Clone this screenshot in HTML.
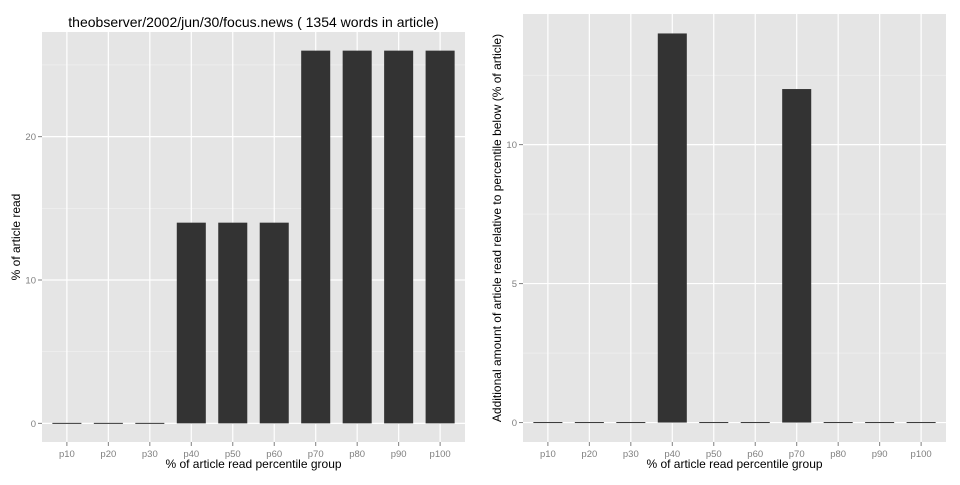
<!DOCTYPE html>
<html><head><meta charset="utf-8"><style>
body{margin:0;background:#fff;}
svg text{font-family:"Liberation Sans",sans-serif;}
</style></head><body>
<svg id="c" width="960" height="480"></svg>
<script>
const categories=["p10","p20","p30","p40","p50","p60","p70","p80","p90","p100"];
const leftValues=[0,0,0,14,14,14,26,26,26,26];
const rightValues=[0,0,0,14,0,0,12,0,0,0];
const leftTicks=[0,10,20];
const rightTicks=[0,5,10];
const NS="http://www.w3.org/2000/svg";
const svg=document.getElementById('c');
function mk(tag,attrs,parent){const e=document.createElementNS(NS,tag);for(const k in attrs)e.setAttribute(k,attrs[k]);(parent||svg).appendChild(e);return e;}
function panel(name,x0,y0,w,yBottom,values,ticks,ytitle,ytx){
  const g=mk('g',{});
  
  
  const maxV=Math.max(...values);
  const lo=-maxV*0.05,hi=maxV*1.05;
  const h=yBottom-y0;
  const ys=v=>yBottom-(v-lo)/(hi-lo)*h;
  const step=w/(categories.length+0.2);
  const xs=i=>x0+step*(0.6+i);
  const bg=mk('rect',{x:x0,y:y0,width:w,height:h,fill:'#e5e5e5'},g);
  
  
  // minor grid
  for(let i=0;i<ticks.length;i++){
    const mv=ticks[i]+(ticks[1]-ticks[0])/2;
    if(mv<hi) mk('line',{x1:x0,x2:x0+w,y1:ys(mv),y2:ys(mv),stroke:'#f2f2f2','stroke-width':0.6},g);
  }
  ticks.forEach(t=>{
    mk('line',{x1:x0,x2:x0+w,y1:ys(t),y2:ys(t),stroke:'#fff','stroke-width':1.2},g);
    mk('line',{x1:x0-4,x2:x0,y1:ys(t),y2:ys(t),stroke:'#7f7f7f','stroke-width':1},g);
    const tl=mk('text',{x:x0-6,y:ys(t)+3.5,'font-size':9.5,fill:'#7f7f7f','text-anchor':'end'},g);
    tl.textContent=t;
    
    
  });
  categories.forEach((c,i)=>{
    mk('line',{x1:xs(i),x2:xs(i),y1:y0,y2:yBottom,stroke:'#fff','stroke-width':1.2},g);
    mk('line',{x1:xs(i),x2:xs(i),y1:yBottom,y2:yBottom+4,stroke:'#7f7f7f','stroke-width':1},g);
    const tl=mk('text',{x:xs(i),y:yBottom+15,'font-size':9.5,fill:'#7f7f7f','text-anchor':'middle'},g);
    tl.textContent=c;
    
    
  });
  values.forEach((v,i)=>{
    const bw=step*0.7;
    const top=ys(v),bot=ys(0);
    const r=mk('rect',{x:xs(i)-bw/2,y:Math.min(top,bot)-(v===0?0.5:0),width:bw,height:Math.max(Math.abs(bot-top),1),fill:'#333'},g);
    
    
  });
  const xt=mk('text',{x:x0+w/2,y:yBottom+26,'font-size':12,fill:'#000','text-anchor':'middle'},g);
  xt.textContent='% of article read percentile group';
  
  
  const yt=mk('text',{x:0,y:0,'font-size':12,fill:'#000','text-anchor':'middle',transform:`translate(${ytx},${y0+h/2}) rotate(-90)`},g);
  yt.textContent=ytitle;
  
  
}
panel('left-panel',42,32,423,442,leftValues,leftTicks,'% of article read',20);
panel('right-panel',523,14,423,442,rightValues,rightTicks,'Additional amount of article read relative to percentile below (% of article)',501);
const t=mk('text',{x:253.5,y:27,'font-size':14,fill:'#000','text-anchor':'middle'});
t.textContent='theobserver/2002/jun/30/focus.news ( 1354 words in article)';


</script>
</body></html>
